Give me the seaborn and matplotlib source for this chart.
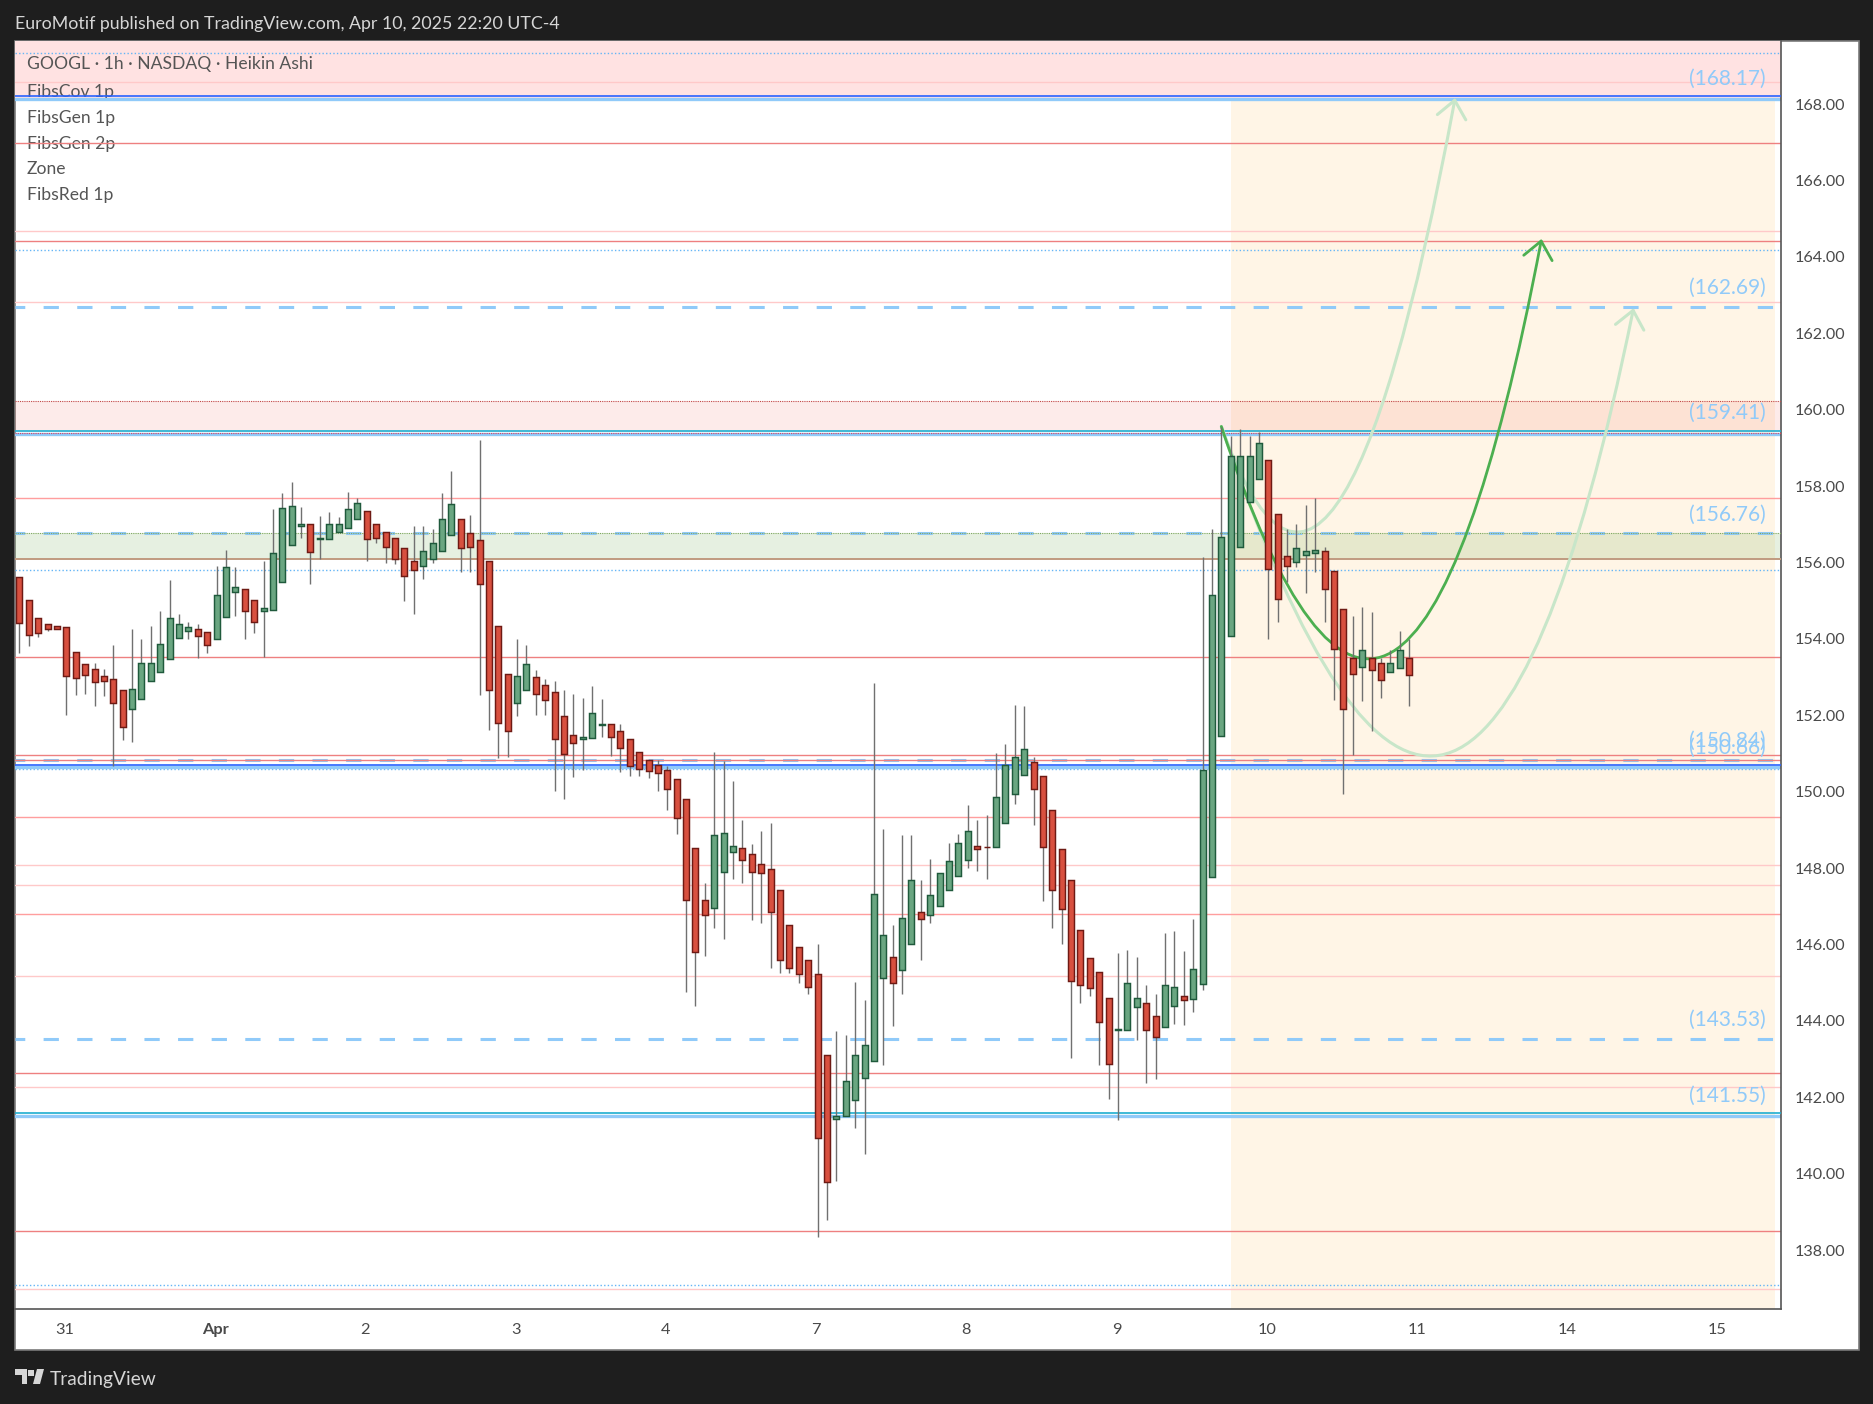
import matplotlib
matplotlib.use("Agg")
import matplotlib.pyplot as plt
import seaborn as sns
import pandas as pd
from matplotlib.patches import Rectangle, Polygon, FancyArrowPatch
from matplotlib.path import Path
from matplotlib.ticker import FormatStrFormatter

# ---------- data (hourly Heikin Ashi candles) ----------
candle_open = [155.61,155.01,154.56,154.38,154.33,154.30,153.67,153.33,153.20,153.04,152.96,152.65,152.17,152.43,152.90,153.14,153.48,154.03,154.21,154.25,154.17,154.00,154.58,155.23,155.30,155.03,154.74,154.76,155.50,156.46,156.96,157.00,156.61,156.62,156.80,156.91,157.15,157.34,157.00,156.81,156.63,156.37,156.03,155.91,156.10,156.31,156.73,157.13,156.76,156.58,156.03,154.35,153.07,152.33,152.67,152.99,152.79,152.60,151.99,151.49,151.38,151.41,151.75,151.76,151.60,151.39,151.05,150.82,150.69,150.58,150.34,149.82,148.52,147.16,146.96,147.91,148.41,148.52,148.36,148.12,147.99,147.43,146.52,145.94,145.60,145.24,143.10,141.43,141.50,141.94,142.51,142.96,145.13,145.68,145.34,146.02,146.86,146.76,147.01,147.43,147.80,148.22,148.59,148.55,148.54,149.19,149.95,150.44,150.78,150.42,149.51,148.49,147.70,146.39,145.66,145.27,144.61,143.77,143.77,144.37,144.48,144.12,143.85,144.40,144.64,144.58,144.97,147.77,151.46,154.08,156.41,157.59,158.19,158.67,157.26,156.16,156.02,156.20,156.25,156.29,155.79,154.77,153.49,153.27,153.51,153.36,153.14,153.24,153.49]
candle_high = [155.61,155.01,154.56,154.38,154.33,154.30,153.67,153.33,153.37,153.20,153.84,152.65,154.27,154.01,154.33,154.73,155.54,154.64,154.43,154.38,154.17,155.91,156.32,155.87,155.30,155.03,156.04,157.40,157.81,158.10,157.44,157.00,157.21,157.32,157.19,157.84,157.69,157.34,157.00,156.81,156.63,156.37,156.95,156.95,156.87,157.82,158.39,157.13,157.24,159.20,156.03,154.35,153.07,153.99,153.84,153.19,152.95,152.89,152.66,152.55,152.45,152.76,152.42,151.78,151.78,151.39,151.05,150.82,150.82,150.67,150.34,149.82,148.52,147.61,151.03,150.80,150.28,149.25,148.63,148.97,149.18,147.43,146.52,145.94,145.60,146.01,143.10,143.73,143.63,145.01,144.54,152.85,149.02,146.50,148.86,148.86,147.69,148.24,147.86,148.66,148.89,149.65,149.26,149.39,151.02,151.24,152.26,152.24,150.90,150.42,149.51,148.49,147.70,146.39,145.66,145.27,144.61,145.77,145.85,145.67,144.94,144.70,146.30,146.35,145.83,146.66,156.14,156.87,159.54,159.31,159.49,159.31,159.41,158.67,157.26,156.87,157.00,157.50,157.69,156.40,155.79,154.77,154.60,154.83,154.70,153.51,153.72,154.20,154.00]
candle_low = [153.64,153.82,154.06,154.21,154.27,152.00,152.53,152.55,152.24,152.50,150.68,151.35,151.30,152.43,152.90,153.14,153.48,154.03,154.00,153.50,153.63,154.00,154.58,154.60,153.99,154.15,153.52,154.76,155.50,156.46,156.64,155.43,156.09,156.62,156.80,156.91,157.15,156.04,156.51,155.98,155.96,154.99,154.65,155.57,155.98,156.31,156.73,155.75,155.75,152.53,151.61,150.88,150.91,151.98,152.67,152.01,152.01,150.02,149.82,150.38,150.57,151.41,151.43,150.94,150.52,150.42,150.42,150.35,150.02,149.52,148.89,144.76,144.40,145.70,146.43,146.15,147.72,147.61,146.63,146.56,145.38,145.26,145.26,144.99,144.71,138.35,138.78,139.81,141.50,141.21,140.53,142.96,142.84,143.86,144.70,146.02,145.59,146.56,147.01,147.43,147.80,148.00,147.92,147.72,148.54,149.19,149.68,150.44,149.13,147.14,146.43,146.01,143.03,144.47,144.65,142.84,141.95,141.40,143.77,143.51,142.37,142.48,143.85,143.92,143.89,144.23,144.81,147.77,151.46,154.08,156.41,157.59,158.19,154.00,154.44,155.50,155.88,155.20,155.75,154.44,152.40,149.94,150.96,152.37,151.59,152.45,153.14,153.24,152.24]
candle_close = [154.42,154.11,154.16,154.27,154.27,153.03,152.98,153.06,152.88,152.90,152.33,151.70,152.70,153.38,153.38,153.86,154.56,154.38,154.30,154.08,153.85,155.16,155.87,155.37,154.74,154.45,154.80,156.26,157.42,157.47,157.00,156.28,156.63,157.00,157.02,157.39,157.55,156.62,156.65,156.41,156.10,155.65,155.81,156.29,156.50,157.15,157.52,156.39,156.41,155.44,152.67,151.80,151.60,153.02,153.33,152.57,152.39,151.38,150.99,151.28,151.44,152.07,151.78,151.44,151.15,150.68,150.60,150.55,150.50,150.08,149.32,147.17,145.81,146.76,148.86,148.93,148.59,148.22,147.91,147.86,146.85,145.60,145.39,145.23,144.89,140.94,139.79,141.52,142.42,143.10,143.38,147.31,146.26,145.00,146.70,147.68,146.67,147.29,147.86,148.18,148.65,148.96,148.51,148.54,149.87,150.71,150.92,151.13,150.08,148.56,147.44,146.94,145.05,144.95,144.87,143.98,142.88,143.78,144.98,144.59,143.77,143.58,144.95,144.88,144.55,145.37,150.56,155.16,156.68,158.78,158.80,158.78,159.12,155.84,155.05,155.91,156.39,156.29,156.32,155.31,153.74,152.17,153.09,153.72,153.19,152.93,153.36,153.70,153.06]

day_tick_pos = [5.85,21.85,37.85,53.85,69.85,85.85,101.85,117.85,133.85,149.85,165.85,181.85]
day_tick_labels = ["31","Apr","2","3","4","7","8","9","10","11","14","15"]
price_ticks = [138,140,142,144,146,148,150,152,154,156,158,160,162,164,166,168]

red_levels = [166.98,164.41,153.52,150.96,150.83,142.63,138.49]
medium_red_levels = [157.69,149.35,146.79]
pale_red_levels = [168.57,164.67,162.81,148.07,147.55,145.17,142.26,136.98]
dotted_blue_levels = [169.33,164.18,155.80,150.60,137.08]
dashed_levels = [162.69,156.76,150.84,143.53]
strong_blue_levels = [168.17,150.68]
strong_cyan_levels = [159.41,141.55]
label_levels = [168.17,162.69,159.41,156.76,150.84,150.66,143.53,141.55]
legend_rows = ["GOOGL · 1h · NASDAQ · Heikin Ashi","FibsCov 1p","FibsGen 1p","FibsGen 2p","Zone","FibsRed 1p"]

# curve tool anchors: start, control, end (bar number, price)
curve_dark = [(129.0,159.56),(148.3,145.32),(163.1,164.47)]
curve_up = [(129.0,159.56),(141.1,151.20),(153.9,168.16)]
curve_low = [(129.0,159.56),(154.9,140.90),(172.9,162.66)]

# ---------- layout ----------
W, H = 1874, 1404
DARK = "#1E1E1E"
sns.set_theme(style="white")
plt.rcParams["font.family"] = ["Lato", "DejaVu Sans"]
fig = plt.figure(figsize=(W/100, H/100), dpi=100, facecolor=DARK)

def fx(x): return x / W
def fy(y): return 1 - y / H

fig.add_artist(Rectangle((fx(15), fy(1350)), fx(1859)-fx(15), fy(41)-fy(1350), transform=fig.transFigure,
                         facecolor="white", edgecolor="#7A7A7A", linewidth=1.2, zorder=-5))
ax = fig.add_axes([fx(15.5), fy(1309), fx(1781)-fx(15.5), fy(41)-fy(1309)], facecolor="white", zorder=1)
ax.patch.set_alpha(0)

XMIN, XMAX, YMIN, YMAX = 0.585, 188.6, 136.46, 169.65

# ---------- zones ----------
ax.add_patch(Rectangle((130.0, YMIN), 58.0, 168.17-YMIN, facecolor="#FFF5E6", edgecolor="none", zorder=1))
ax.axhspan(168.17, YMAX, facecolor="#FFE2E2", edgecolor="none", zorder=1)
ax.axhspan(159.41, 160.22, facecolor="#F44336", alpha=0.10, edgecolor="none", zorder=1.1)
ax.axhspan(156.09, 156.76, facecolor="#5A9E3C", alpha=0.15, edgecolor="none", zorder=1.1)

# ---------- legend text (lines run over it in the reference) ----------
for row, label in zip([64.5,91.5,117.5,143.5,169.5,195.5], legend_rows):
    ax.text(fx(27-15.5)/(fx(1781)-fx(15.5)), (fy(row)-fy(1309))/(fy(41)-fy(1309)), label, transform=ax.transAxes,
            ha="left", va="center", fontsize=12.6, color="#555555", zorder=1.5)

# ---------- horizontal levels ----------
for v in pale_red_levels:
    ax.axhline(v, color="#FFC9C9", lw=1.0, zorder=2)
for v in medium_red_levels:
    ax.axhline(v, color="#FF9E9E", lw=1.0, zorder=2)
for v in dotted_blue_levels:
    ax.axhline(v, color="#64B5F6", lw=1.0, ls=(0, (1, 1.6)), zorder=2)
for v in dashed_levels:
    ax.plot([XMIN, 188.0], [v, v], color="#90CAF9", lw=2.2, ls=(1.8, (5, 6)), zorder=2.2)
for v in red_levels:
    ax.axhline(v, color="#EE8080", lw=1.0, zorder=2.4)
for v in strong_blue_levels:
    ax.axhline(v-0.035, color="#90CAF9", lw=2.4, zorder=2.5)
    ax.axhline(v+0.03, color="#2962FF", lw=1.2, zorder=2.6)
for v in strong_cyan_levels:
    ax.axhline(v-0.035, color="#90CAF9", lw=2.4, zorder=2.5)
    ax.axhline(v+0.03, color="#1EAED0", lw=1.2, zorder=2.6)
ax.axhline(160.22, color="#C24A4A", lw=0.8, ls=(0, (1, 1)), zorder=2.6)
ax.axhline(159.38, color="#E0405A", lw=0.8, ls=(0, (1, 1)), zorder=2.7)
ax.axhline(156.76, color="#7FA85F", lw=0.8, ls=(0, (1, 1)), zorder=2.7)
ax.axhline(156.09, color="#C09A80", lw=1.4, zorder=2.7)

# ---------- curves with arrowheads ----------
def curve(points, color, lw, z):
    path = Path(points, [Path.MOVETO, Path.CURVE3, Path.CURVE3])
    arrow = FancyArrowPatch(path=path, arrowstyle="->,head_length=0.62,head_width=0.52", mutation_scale=20,
                            color=color, lw=lw, zorder=z, fill=False, capstyle="round", joinstyle="round")
    ax.add_patch(arrow)

curve(curve_up, "#C8E6C9", 2.2, 3)
curve(curve_low, "#C8E6C9", 2.2, 3)
curve(curve_dark, "#4CAF50", 2.0, 3.1)

# ---------- candles ----------
candles = pd.DataFrame({"o": candle_open, "h": candle_high, "l": candle_low, "c": candle_close})
candles["bar"] = range(1, len(candles)+1)
candles["bottom"] = candles[["o", "c"]].min(axis=1)
candles["size"] = (candles["c"]-candles["o"]).abs()
rising = candles[candles["c"] >= candles["o"]]
falling = candles[candles["c"] < candles["o"]]

ax.vlines(candles["bar"], candles["l"], candles["h"], color="#707070", lw=1.0, zorder=5)
sns.barplot(data=rising, x="bar", y="size", bottom=rising["bottom"].to_numpy(), native_scale=True, width=0.64,
            color="#6AA681", saturation=1, edgecolor="#1F5A3C", linewidth=1.05, errorbar=None, zorder=6, ax=ax)
sns.barplot(data=falling, x="bar", y="size", bottom=falling["bottom"].to_numpy(), native_scale=True, width=0.64,
            color="#D8503F", saturation=1, edgecolor="#6E1A14", linewidth=1.05, errorbar=None, zorder=6, ax=ax)

# ---------- level labels ----------
for v in label_levels:
    ax.annotate(f"({v:.2f})", xy=(1, v), xycoords=("axes fraction", "data"), xytext=(-10.9, 13.7),
                textcoords="offset points", ha="right", va="center", fontsize=15, color="#90CAF9", zorder=7)

# ---------- axes ----------
ax.set_xlim(XMIN, XMAX)
ax.set_ylim(YMIN, YMAX)
ax.set_xlabel("")
ax.set_ylabel("")
ax.yaxis.tick_right()
ax.set_yticks(price_ticks)
ax.yaxis.set_major_formatter(FormatStrFormatter("%.2f"))
ax.set_xticks(day_tick_pos)
ax.set_xticklabels(day_tick_labels)
ax.tick_params(axis="y", length=0, pad=9.5, labelsize=11.6, labelcolor="#4A4A4A", labelright=True, labelleft=False)
ax.tick_params(axis="x", length=0, pad=10, labelsize=11.8, labelcolor="#4A4A4A")
for lab in ax.get_xticklabels():
    if lab.get_text() == "Apr":
        lab.set_fontweight("bold")
for side in ["top", "left"]:
    ax.spines[side].set_visible(False)
for side in ["right", "bottom"]:
    ax.spines[side].set_color("#555555")
    ax.spines[side].set_linewidth(1.2)

# ---------- header and footer ----------
fig.text(fx(15), fy(24.5), "EuroMotif published on TradingView.com, Apr 10, 2025 22:20 UTC-4", ha="left", va="center",
         fontsize=12.75, color="#D6D6D6")
fig.text(fx(50), fy(1379), "TradingView", ha="left", va="center", fontsize=13.8, color="#D6D6D6")
logo = "#D6D6D6"
fig.add_artist(Polygon([(fx(15), fy(1369)), (fx(27), fy(1369)), (fx(27), fy(1384)), (fx(22), fy(1384)), (fx(22), fy(1375)), (fx(15), fy(1375))],
                       closed=True, transform=fig.transFigure, facecolor=logo, edgecolor="none"))
fig.add_artist(Polygon([(fx(37), fy(1369)), (fx(44), fy(1369)), (fx(40), fy(1384)), (fx(33), fy(1384))],
                       closed=True, transform=fig.transFigure, facecolor=logo, edgecolor="none"))
fig.add_artist(Rectangle((fx(28.5), fy(1375.5)), fx(5.5), fy(0)-fy(6), transform=fig.transFigure, facecolor=logo, edgecolor="none"))

fig.savefig("out.png", dpi=100, facecolor=DARK)
